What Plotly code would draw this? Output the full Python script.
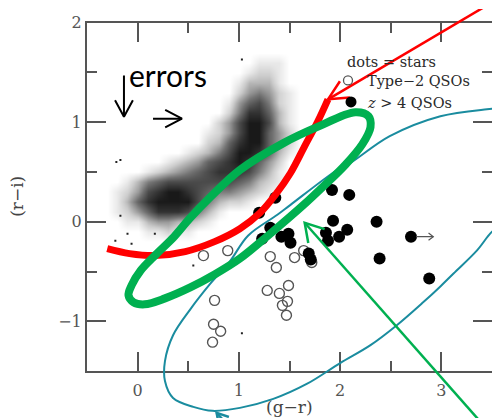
import math
import plotly.graph_objects as go

# ---- canvas / axes geometry ------------------------------------------------
W, H = 492, 418


def py_to_paper(py):
    """Canvas pixel row -> paper fraction."""
    return 1 - py / H


X_RANGE = [-0.5, 3.5]
Y_RANGE = [-1.5, 2.0]
X_DOMAIN = [87 / W, 1.0]
Y_DOMAIN = [py_to_paper(370), py_to_paper(14)]

X_TICKS = [0, 1, 2, 3]
Y_TICKS = [-1, 0, 1, 2]

# ---- stellar locus: dot density on a 0.1 x 0.1 grid (0 = empty, 9 = packed)
STAR_GR_CENTERS = [-0.4, -0.3, -0.2, -0.1, 0.0, 0.1, 0.2, 0.3, 0.4, 0.5, 0.6,
                   0.7, 0.8, 0.9, 1.0, 1.1, 1.2, 1.3, 1.4, 1.5, 1.6, 1.7]
STAR_RI_CENTERS = [1.7, 1.6, 1.5, 1.4, 1.3, 1.2, 1.1, 1.0, 0.9, 0.8, 0.7,
                   0.6, 0.5, 0.4, 0.3, 0.2, 0.1, 0.0, -0.1, -0.2]
STAR_DENSITY_ROWS = [
    "0000000000000000000000",
    "0000000000000000111000",
    "0000000000000001221000",
    "0000000000000013331000",
    "0000000000000024542100",
    "0000000000000146752100",
    "0000000000000258863100",
    "0000000000002479973100",
    "0000000000012479964200",
    "0000000000023689964200",
    "0000000001235799863100",
    "0000000123467898642000",
    "0000012345678887531000",
    "0001356777777765321000",
    "0012478998765543210000",
    "0013689999753221000000",
    "0012468887531000000000",
    "0001134433210000000000",
    "0000011211000000000000",
    "0000000000000000000000",
]

# isolated stars outside the main locus
STRAY_GR = [-0.21, -0.17, -0.17, -0.22, 0.55, 1.03, -0.10, -0.06, 0.17, 1.03]
STRAY_RI = [0.60, 0.62, 0.06, -0.19, -0.44, -1.12, -0.12, -0.22, -0.12, 1.63]

# ---- Type-2 QSOs (open circles) ---------------------------------------------
QSO2_GR = [0.65, 0.89, 1.31, 1.37, 1.55, 1.64, 1.72, 1.28, 1.40, 1.49,
           1.48, 1.43, 1.47, 0.76, 0.75, 0.82, 0.74]
QSO2_RI = [-0.34, -0.29, -0.35, -0.46, -0.36, -0.29, -0.41, -0.69, -0.72, -0.64,
           -0.80, -0.84, -0.94, -0.79, -1.03, -1.10, -1.21]

# ---- z > 4 QSOs (filled dots) ------------------------------------------------
HIZ_GR = [1.36, 1.20, 1.31, 1.23, 1.42, 1.49, 1.51, 1.69, 1.71, 1.92,
          2.09, 1.93, 1.86, 1.88, 1.99, 2.07, 2.36, 2.39, 2.70, 2.88]
HIZ_RI = [0.24, 0.09, -0.06, -0.17, -0.15, -0.12, -0.21, -0.32, -0.38, 0.32,
          0.27, 0.01, -0.11, -0.19, -0.15, -0.08, 0.00, -0.37, -0.15, -0.57]
HIZ_LIMIT_INDEX = 18          # this colour is a lower limit in (g-r)

# ---- overlaid selection curves ----------------------------------------------
RED_GR = [-0.30, -0.08, 0.17, 0.47, 0.76, 1.01, 1.21, 1.36, 1.51, 1.65, 1.78, 1.88]
RED_RI = [-0.27, -0.32, -0.34, -0.30, -0.20, -0.07, 0.09, 0.27, 0.49, 0.76, 1.01, 1.23]

GREEN_GR = [2.15, 1.77, 1.44, 1.01, 0.72, 0.52, 0.36, 0.19, 0.03, -0.06, -0.09,
            -0.04, 0.07, 0.27, 0.52, 0.76, 1.01, 1.31, 1.64, 1.85, 2.05, 2.22,
            2.30, 2.28, 2.15]
GREEN_RI = [1.10, 0.95, 0.79, 0.52, 0.25, 0.04, -0.15, -0.32, -0.49, -0.64, -0.74,
            -0.81, -0.83, -0.77, -0.66, -0.53, -0.37, -0.12, 0.17, 0.37, 0.57, 0.78,
            0.95, 1.06, 1.10]

TEAL_GR = [3.58, 3.50, 3.35, 3.12, 2.99, 2.82, 2.56, 2.30, 2.00, 1.67, 1.34, 1.01,
           0.74, 0.55, 0.35, 0.27, 0.27, 0.35, 0.52, 0.72, 0.91, 1.09, 1.38, 1.51,
           1.97, 2.10, 2.49, 2.99, 3.45, 3.58]
TEAL_RI = [-0.05, -0.10, -0.29, -0.52, -0.65, -0.81, -1.04, -1.24, -1.42, -1.63,
           -1.78, -1.87, -1.90, -1.86, -1.77, -1.60, -1.40, -1.14, -0.88, -0.62,
           -0.40, -0.14, 0.07, 0.17, 0.52, 0.59, 0.86, 1.06, 1.13, 1.14]

RED_COLOR = "#ff0000"
GREEN_COLOR = "#00b050"
TEAL_COLOR = "#1a8c9f"
AXIS_COLOR = "#555555"

# pixel scale of the data axes (used to draw arrowheads with fixed pixel size)
SX = W * (X_DOMAIN[1] - X_DOMAIN[0]) / (X_RANGE[1] - X_RANGE[0])
SY = H * (Y_DOMAIN[1] - Y_DOMAIN[0]) / (Y_RANGE[1] - Y_RANGE[0])


def full_canvas_range(rng, dom):
    """Range of an axis spanning the whole canvas with the same scale."""
    span = (rng[1] - rng[0]) / (dom[1] - dom[0])
    return [rng[0] - dom[0] * span, rng[0] + (1 - dom[0]) * span]


def arrow_path(tail, tip, head_px, half_deg):
    """Shaft plus an open two-stroke head, in data units."""
    a = math.atan2((tail[1] - tip[1]) * SY, (tail[0] - tip[0]) * SX)
    h = math.radians(half_deg)
    wings = [(tip[0] + head_px * math.cos(a + s * h) / SX,
              tip[1] + head_px * math.sin(a + s * h) / SY) for s in (1, -1)]
    xs = [tail[0], tip[0], None, wings[0][0], tip[0], wings[1][0]]
    ys = [tail[1], tip[1], None, wings[0][1], tip[1], wings[1][1]]
    return xs, ys


fig = go.Figure()

# stellar locus
z_rows = [[int(ch) for ch in row] for row in STAR_DENSITY_ROWS]
fig.add_trace(go.Heatmap(
    x=STAR_GR_CENTERS, y=STAR_RI_CENTERS[::-1], z=z_rows[::-1],
    zmin=0, zmax=9, zsmooth="best", showscale=False, hoverinfo="skip",
    colorscale=[[0, "rgba(0,0,0,0)"], [0.25, "rgba(0,0,0,0.2)"],
                [0.6, "rgba(0,0,0,0.56)"], [1, "rgba(0,0,0,0.9)"]],
))
fig.add_trace(go.Scatter(
    x=STRAY_GR, y=STRAY_RI, mode="markers", hoverinfo="skip",
    marker=dict(symbol="square", size=2, color="#222222", line_width=0),
))

# quasars
fig.add_trace(go.Scatter(
    x=QSO2_GR, y=QSO2_RI, mode="markers", hoverinfo="skip",
    marker=dict(symbol="circle-open", size=10, color="#555555", line_width=1.4),
))
fig.add_trace(go.Scatter(
    x=HIZ_GR, y=HIZ_RI, mode="markers", hoverinfo="skip",
    marker=dict(symbol="circle", size=12, color="black", line_width=0),
))
lim_x, lim_y = arrow_path((HIZ_GR[HIZ_LIMIT_INDEX] + 0.05, HIZ_RI[HIZ_LIMIT_INDEX]),
                          (HIZ_GR[HIZ_LIMIT_INDEX] + 0.22, HIZ_RI[HIZ_LIMIT_INDEX]),
                          6, 38)
fig.add_trace(go.Scatter(x=lim_x, y=lim_y, mode="lines", hoverinfo="skip",
                         line=dict(color="#555555", width=1.2)))

# error-size arrows
for tail, tip in [((-0.135, 1.47), (-0.135, 1.055)), ((0.152, 1.036), (0.438, 1.036))]:
    ax_, ay_ = arrow_path(tail, tip, 19, 28)
    fig.add_trace(go.Scatter(x=ax_, y=ay_, mode="lines", hoverinfo="skip",
                             line=dict(color="black", width=2)))

# selection curves and pointers live on a full-canvas overlay so they may run
# past the frame
OV = dict(xaxis="x2", yaxis="y2", mode="lines", hoverinfo="skip")
fig.add_trace(go.Scatter(x=TEAL_GR, y=TEAL_RI, line=dict(color=TEAL_COLOR, width=2,
                                                         shape="spline"), **OV))
fig.add_trace(go.Scatter(x=RED_GR, y=RED_RI, line=dict(color=RED_COLOR, width=7,
                                                       shape="spline"), **OV))
fig.add_trace(go.Scatter(x=GREEN_GR, y=GREEN_RI, line=dict(color=GREEN_COLOR, width=8,
                                                           shape="spline"), **OV))
for tail, tip, color, head, half in [
        ((3.56, 2.24), (RED_GR[-1], RED_RI[-1]), RED_COLOR, 22, 26),
        ((3.49, -2.13), (1.65, -0.01), GREEN_COLOR, 21, 31),
        ((1.06, -2.24), (0.78, -1.92), TEAL_COLOR, 13, 30)]:
    px_, py_ = arrow_path(tail, tip, head, half)
    fig.add_trace(go.Scatter(x=px_, y=py_, line=dict(color=color, width=2.5), **OV))

# right-hand tick column
fig.add_trace(go.Scatter(x=[], y=[], xaxis="x", yaxis="y3", hoverinfo="skip"))

tick_font = dict(family="DejaVu Serif", size=16, color="#555555")
axis_common = dict(
    showgrid=False, zeroline=False, ticks="inside", ticklen=19, tickwidth=1.6,
    tickcolor=AXIS_COLOR, showline=True, linecolor=AXIS_COLOR, linewidth=2,
    tickfont=tick_font, fixedrange=True,
    minor=dict(ticks="inside", ticklen=10, tickwidth=1.6, tickcolor=AXIS_COLOR,
               dtick=0.5, showgrid=False),
)

fig.update_layout(
    width=W, height=H, margin=dict(l=0, r=0, t=0, b=0),
    paper_bgcolor="white", plot_bgcolor="rgba(0,0,0,0)", showlegend=False,
    xaxis=dict(domain=X_DOMAIN, range=X_RANGE, tickvals=X_TICKS, mirror="ticks",
               anchor="y", ticklabelstandoff=4, **axis_common),
    yaxis=dict(domain=Y_DOMAIN, range=Y_RANGE, tickvals=Y_TICKS, mirror=False,
               anchor="x", **axis_common),
    yaxis3=dict(overlaying="y", side="right", range=Y_RANGE, tickvals=Y_TICKS,
                showticklabels=False, showline=False, showgrid=False, zeroline=False,
                ticks="inside", ticklen=19, tickwidth=1.6, tickcolor=AXIS_COLOR,
                fixedrange=True,
                minor=dict(ticks="inside", ticklen=10, tickwidth=1.6,
                           tickcolor=AXIS_COLOR, dtick=0.5, showgrid=False)),
    xaxis2=dict(domain=[0, 1], range=full_canvas_range(X_RANGE, X_DOMAIN),
                anchor="y2", visible=False, fixedrange=True),
    yaxis2=dict(domain=[0, 1], range=full_canvas_range(Y_RANGE, Y_DOMAIN),
                anchor="x2", visible=False, fixedrange=True),
)

serif = "DejaVu Serif"
label_font = dict(family=serif, size=14.5, color="#2a2a2a")
annotations = [
    dict(text="(g−r)", x=289 / W, y=py_to_paper(407),
         font=dict(family=serif, size=17, color="#444444")),
    dict(text="(r−i)", x=17 / W, y=py_to_paper(192), textangle=-90,
         font=dict(family=serif, size=17, color="#444444")),
    dict(text="errors", x=127 / W, y=py_to_paper(67), xanchor="left",
         font=dict(family="Lato", size=30, color="black")),
    dict(text="dots = stars", x=345 / W, y=py_to_paper(54), xanchor="left", font=label_font),
    dict(text="Type−2 QSOs", x=365 / W, y=py_to_paper(74), xanchor="left", font=label_font),
    dict(text="<i>z</i> > 4 QSOs", x=365 / W, y=py_to_paper(96), xanchor="left",
         font=label_font),
]
for a in annotations:
    a.setdefault("xanchor", "center")
    fig.add_annotation(xref="paper", yref="paper", yanchor="middle", showarrow=False, **a)

# legend keys
fig.add_shape(type="circle", xref="paper", yref="paper", xsizemode="pixel",
              ysizemode="pixel", xanchor=348 / W, yanchor=py_to_paper(73),
              x0=-4.5, x1=4.5, y0=-4.5, y1=4.5, line=dict(color="#555555", width=1.3))
fig.add_shape(type="circle", xref="paper", yref="paper", xsizemode="pixel",
              ysizemode="pixel", xanchor=351 / W, yanchor=py_to_paper(95),
              x0=-5.5, x1=5.5, y0=-5.5, y1=5.5, fillcolor="black", line_width=0)

fig.write_html("out.html")
